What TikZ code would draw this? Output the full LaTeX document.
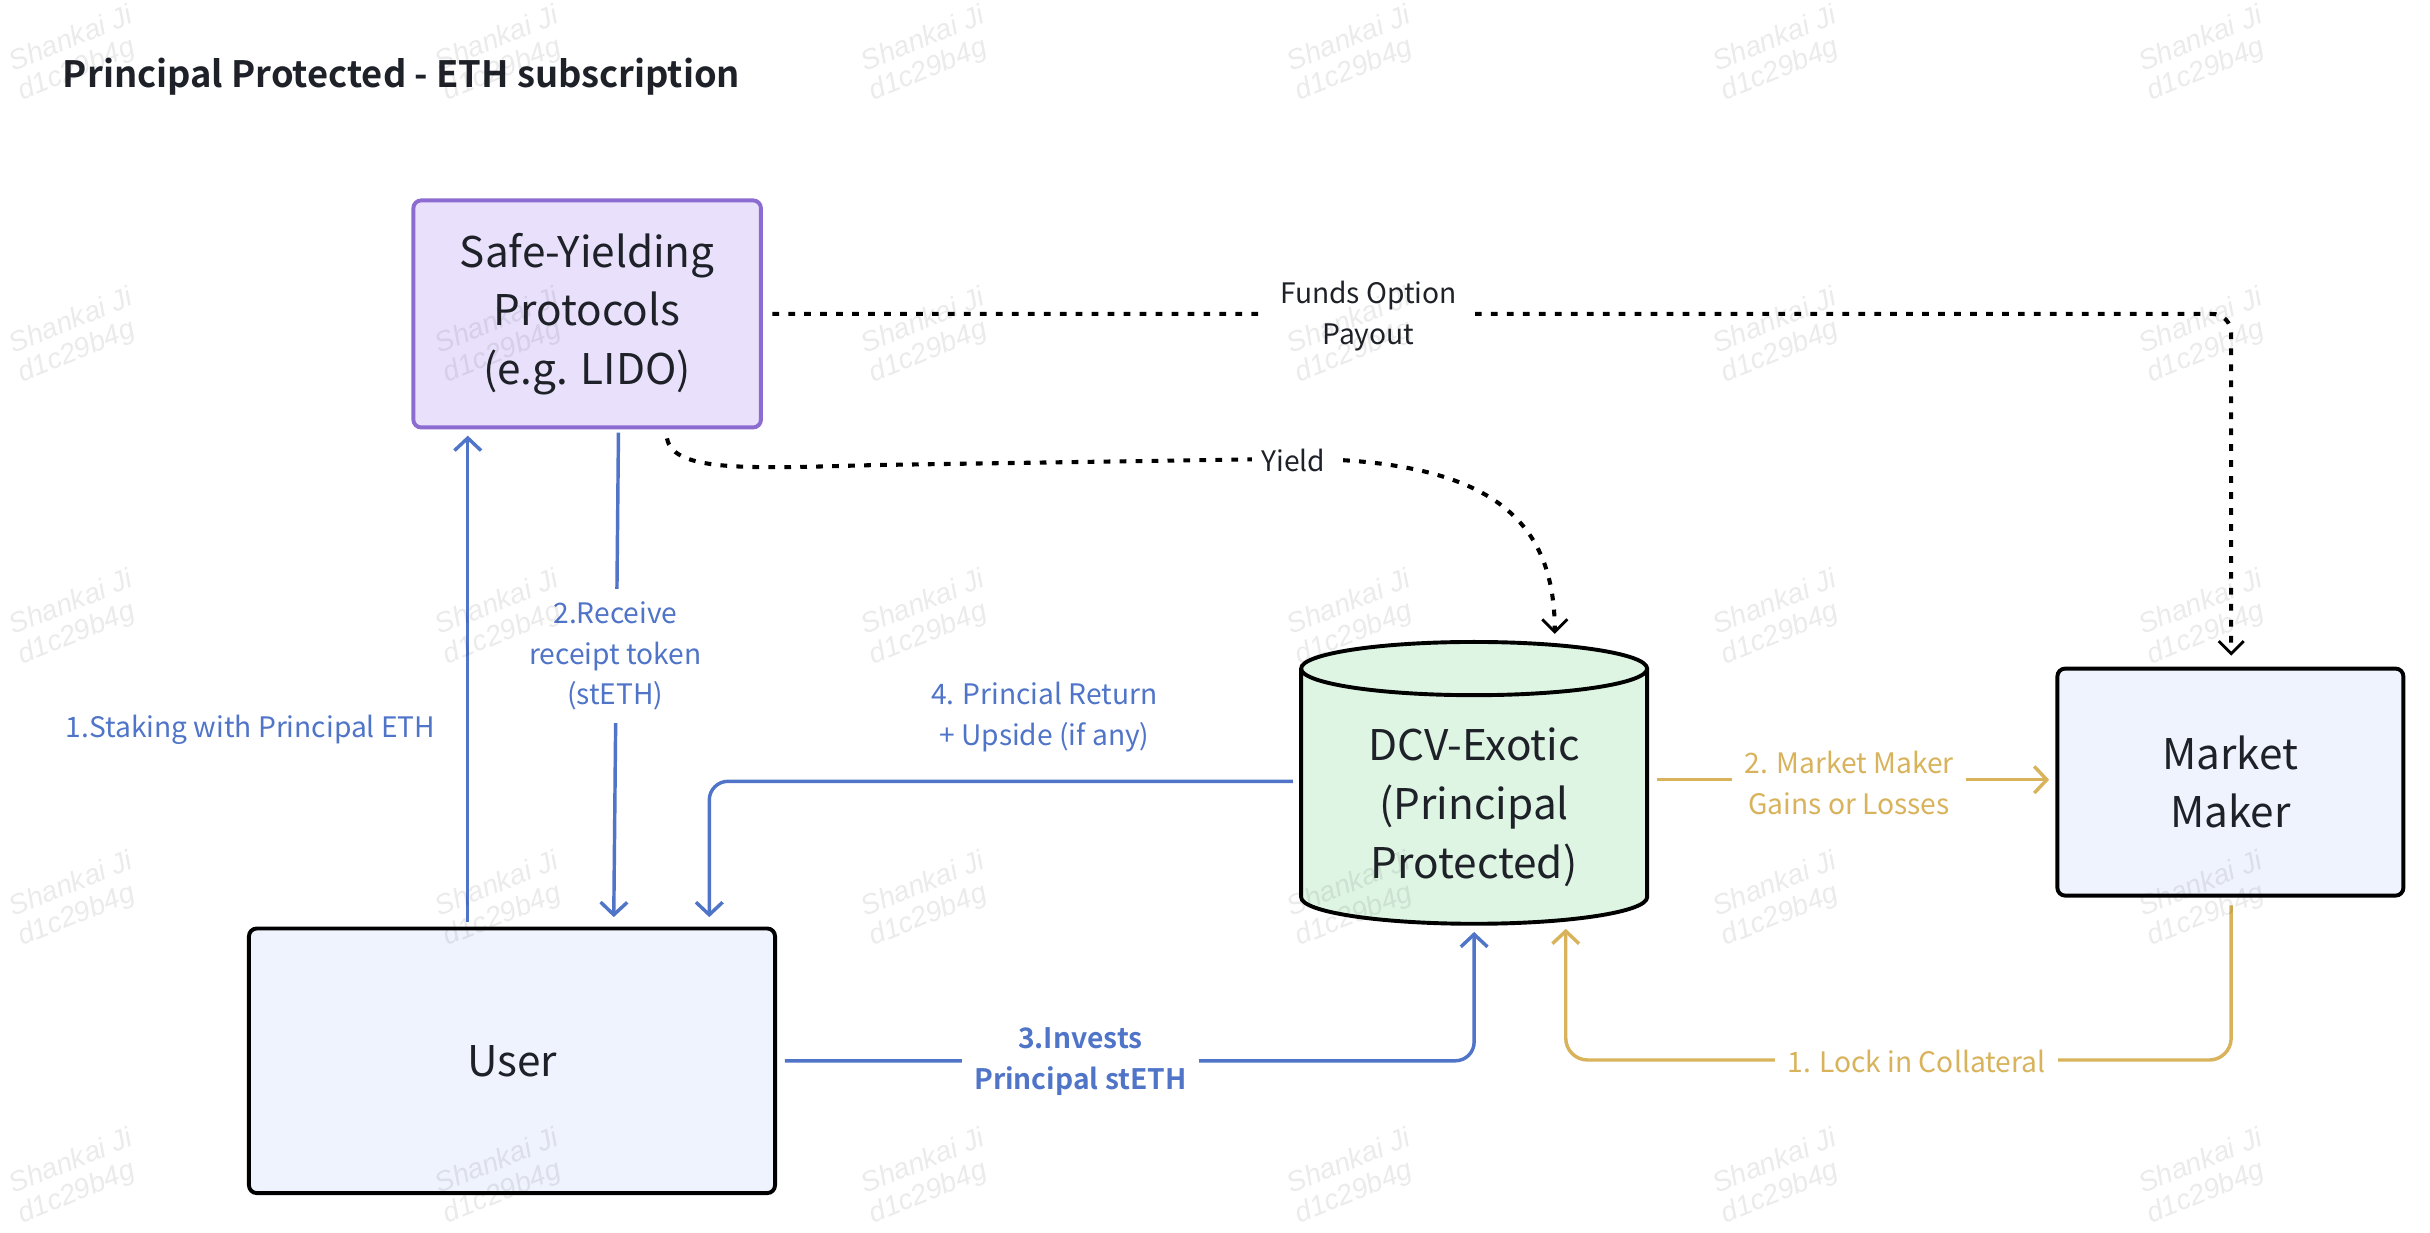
\documentclass[tikz,border=0pt]{standalone}
\usepackage{fontspec}
\setmainfont{Noto Sans CJK SC}[BoldFont={Noto Sans CJK SC Bold}]
\newfontfamily\wmfont{Liberation Sans}
\usetikzlibrary{arrows.meta,calc}
\definecolor{cblue}{HTML}{4F74C8}
\definecolor{cgold}{HTML}{D8B35B}
\definecolor{purpfill}{HTML}{E9E1FC}
\definecolor{purpline}{HTML}{8C6CD0}
\definecolor{bluefill}{HTML}{EFF3FD}
\definecolor{greenfill}{HTML}{DFF5E4}
\definecolor{inkc}{HTML}{1E2228}
\tikzset{
  boxnode/.style={draw=black, line width=2.5pt, rounded corners=5pt, fill=bluefill, align=center, inner sep=0pt, text=inkc, font=\fontsize{27}{37.5}\selectfont},
  boxtext/.style={align=center, inner sep=0pt, text=inkc, font=\fontsize{27}{37.5}\selectfont},
  lbl/.style={align=center, inner sep=6pt, font=\fontsize{18}{26}\selectfont},
  tipa/.style={-{Straight Barb[length=8pt,width=17pt]}},
  blueconn/.style={draw=cblue, line width=2.2pt, tipa},
  goldconn/.style={draw=cgold, line width=2.2pt, tipa},
  dotconn/.style={draw=black, line width=2.6pt, dash pattern=on 4.3pt off 5.9pt, -{Straight Barb[length=8pt,width=16pt,line width=1.8pt]}},
  wmark/.style={rotate=22, inner sep=0pt, text=black, text opacity=0.08, font=\wmfont\itshape\fontsize{18}{20}\selectfont}
}
\begin{document}
\begin{tikzpicture}[x=1pt,y=-1pt]
\useasboundingbox (0,0) rectangle (1552,787);
\fill[white] (0,0) rectangle (1552,787);

% title
\node[anchor=west, inner sep=0pt, text=inkc, font=\bfseries\fontsize{23.2}{28}\selectfont] (title) at (40,49) {Principal Protected - ETH subscription};

% boxes
\node[boxnode, draw=purpline, fill=purpfill, minimum width=222pt, minimum height=145pt] (safe) at (375,200.5) {Safe-Yielding\\Protocols\\(e.g. LIDO)};
\node[boxnode, minimum width=336pt, minimum height=169pt] (user) at (327,677.5) {User};
\node[boxnode, minimum width=221pt, minimum height=145pt] (mm) at (1424.5,499.5) {Market\\Maker};

% cylinder
\fill[greenfill] (831,427) rectangle (1052,573);
\fill[greenfill] (941.5,573) ellipse[x radius=110.5, y radius=17];
\fill[greenfill] (941.5,427) ellipse[x radius=110.5, y radius=17];
\draw[line width=2.5pt] (941.5,427) ellipse[x radius=110.5, y radius=17];
\draw[line width=2.5pt] (831,427) -- (831,573) arc[start angle=180, end angle=0, x radius=110.5, y radius=17] -- (1052,427);
\node[minimum width=221pt, minimum height=180pt, inner sep=0pt] (dcv) at (941.5,500) {};
\node[boxtext] (dcvtext) at (941.5,515.5) {DCV-Exotic\\(Principal\\Protected)};

% 1. staking
\draw[blueconn] ($(user.north west)+(141,-3)$) -- ($(safe.south west)+(36,4)$);
\node[lbl, text=cblue, inner sep=0pt] (l1) at (160,466) {1.Staking with Principal ETH};

% 2. receive
\draw[blueconn] ($(safe.south)+(20,2)$) -- ($(user.north)+(65,-6)$);
\node[lbl, text=cblue, fill=white, inner sep=8pt] (l2) at (393,419) {2.Receive\\receipt token\\(stETH)};

% 3. invests
\draw[blueconn, rounded corners=12pt] ($(user.east)+(5,0)$) -| ($(dcv.south)+(0,5)$);
\node[lbl, text=cblue, fill=white, inner sep=8pt, font=\bfseries\fontsize{18}{26}\selectfont] (l3) at (690,678) {3.Invests\\Principal stETH};

% 4. return
\draw[blueconn, rounded corners=12pt] ($(dcv.west)+(-5,-1)$) -| ($(user.north)+(126,-6)$);
\node[lbl, text=cblue, inner sep=0pt] (l4) at (667,458) {4. Princial Return\\+ Upside (if any)};

% gold 2
\draw[goldconn] ($(dcv.east)+(6,-2)$) -- ($(mm.west)+(-4,-1.5)$);
\node[lbl, text=cgold, fill=white, inner sep=8pt] (g2) at (1181,500) {2. Market Maker\\Gains or Losses};

% gold 1
\coordinate (gcorner) at (1425,677);
\draw[goldconn, rounded corners=14pt] ($(mm.south)+(0.5,5)$) -- (gcorner) -| ($(dcv.south)+(58.5,3)$);
\node[lbl, text=cgold, fill=white, inner sep=8pt] (g1) at (1224,678) {1. Lock in Collateral};

% funds option payout
\draw[dotconn, rounded corners=12pt] ($(safe.east)+(6,0)$) -| ($(mm.north)+(0.5,-7)$);
\node[lbl, fill=white, text=inkc, inner sep=10pt] (fo) at (874,202) {Funds Option\\Payout};

% yield
\coordinate (ystart) at (426,280);
\coordinate (ymid) at (826,293);
\draw[dotconn] (ystart) .. controls (430,302) and (480,299) .. (560,297) -- (ymid) .. controls (950,293) and (993,330) .. ($(dcv.north)+(51.5,-5)$);
\node[lbl, fill=white, text=inkc, inner sep=6pt] (yl) at (826,294) {Yield};

% watermarks
\foreach \wx in {45,317,589,861,1133,1405} {
  \foreach \wy in {24,204,384,564,741} {
    \node[wmark] (wa-\wx-\wy) at (\wx,\wy) {Shankai Ji};
    \node[wmark] (wb-\wx-\wy) at (\wx+4,\wy+21) {d1c29b4g};
  }
}
\end{tikzpicture}
\end{document}
